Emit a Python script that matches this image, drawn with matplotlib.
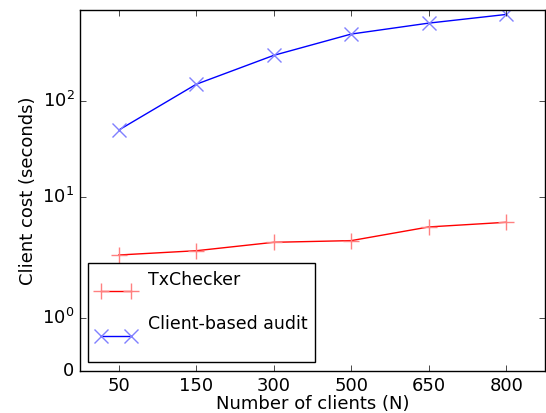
import matplotlib
matplotlib.use('Agg')
import matplotlib.pyplot as plt
import numpy as np

# number of clients (categories on x)
clients = ['50', '150', '300', '500', '650', '800']
# client cost in seconds
txchecker = [2.5, 2.77, 3.39, 3.53, 4.9, 5.48]
client_audit = [50, 150, 300, 500, 650, 800]

plt.style.use('classic')
plt.rcParams['font.family'] = ['DejaVu Sans']

fig = plt.figure(figsize=(5.46, 4.13), dpi=100, facecolor='white')
ax = fig.add_axes([80/546, 1 - 371/413, 465/546, 361/413])

x = np.arange(len(clients))
# second blank line in the labels lifts the text above the legend handle, as in the original
ax.plot(x, txchecker, color='r', marker='+', markersize=12, markeredgewidth=1,
        markeredgecolor=(1, 0.5, 0.5), label='TxChecker\n ')
ax.plot(x, client_audit, color='b', marker='x', markersize=10, markeredgewidth=1,
        markeredgecolor=(0.5, 0.5, 1), label='Client-based audit\n ')

ax.set_yscale('symlog')
ax.set_ylim(0, 890)
ax.set_xlim(-0.5, len(clients) - 0.5)
ax.set_xticks(x)
ax.set_xticklabels(clients)
ax.minorticks_off()
ax.tick_params(labelsize=13)

ax.set_xlabel('Number of clients (N)', fontsize=13, labelpad=0)
ax.set_ylabel('Client cost (seconds)', fontsize=13, labelpad=4)

leg = ax.legend(loc='lower left', bbox_to_anchor=(8/465, 9/361), borderaxespad=0,
                fontsize=12.5, labelspacing=0.35, handlelength=2.3, handletextpad=0.7,
                borderpad=0.45)
leg.get_frame().set_linewidth(1)

fig.savefig('out.png', dpi=100, facecolor='white')
